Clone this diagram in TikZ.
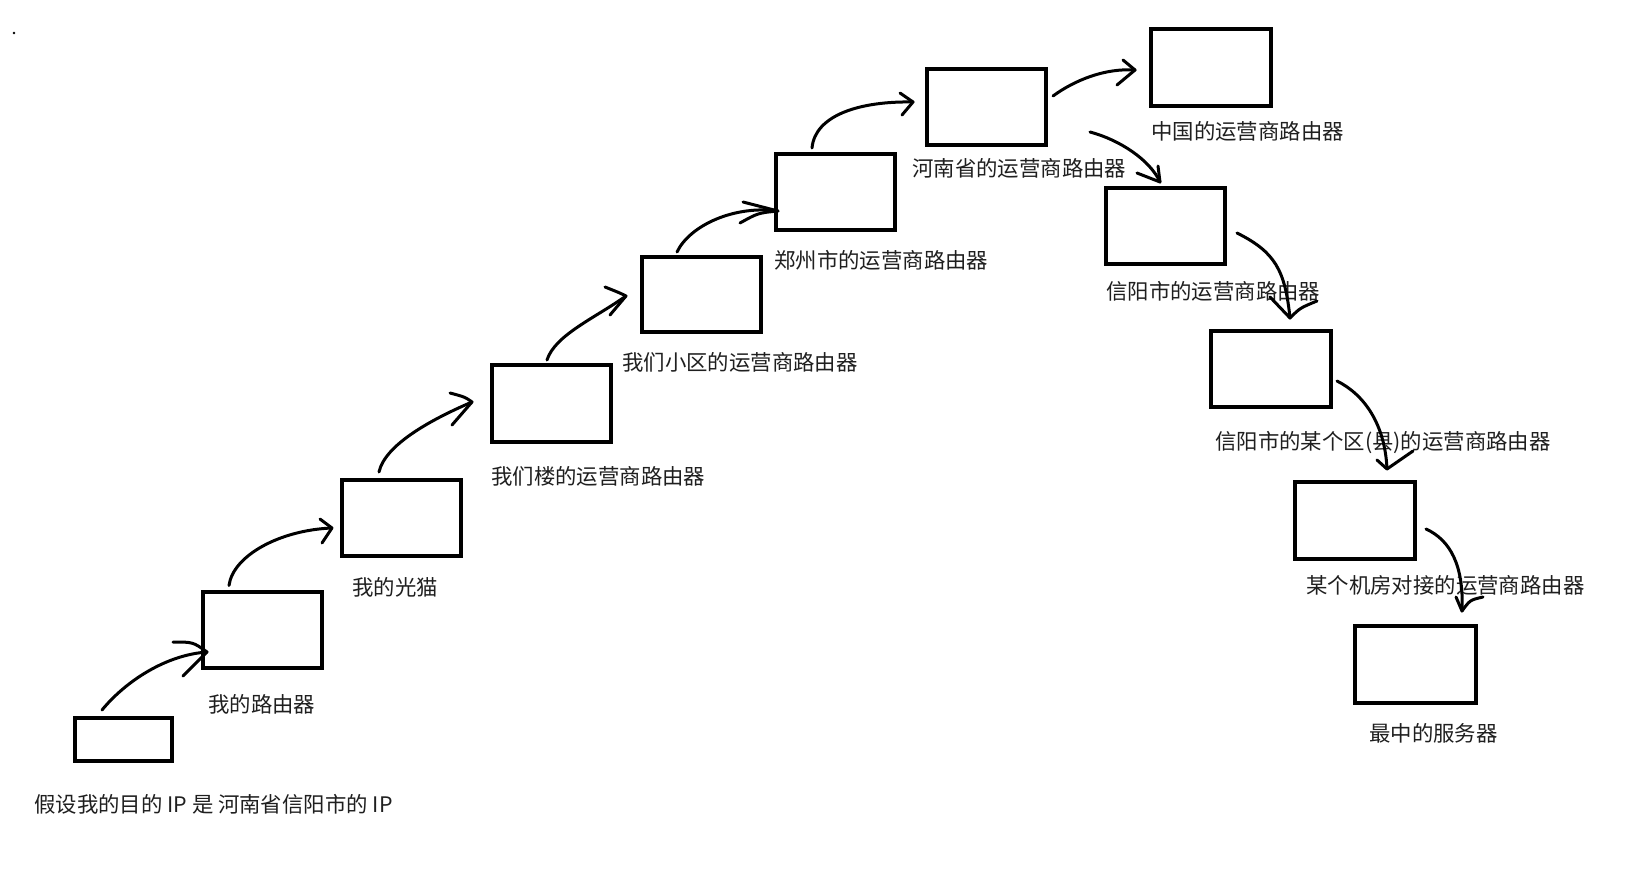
\documentclass[tikz,border=0pt]{standalone}
\usepackage{fontspec}
\setmainfont{Noto Sans CJK SC}
\usetikzlibrary{calc}
\begin{document}
\begin{tikzpicture}[x=1pt,y=-1pt,
  box/.style={draw=black,line width=4pt,inner sep=0pt,outer sep=0pt,minimum width=119pt,minimum height=76pt},
  lbl/.style={anchor=west,inner sep=0pt,text=black!88,font=\fontsize{21.4}{25}\selectfont},
  shaft/.style={draw=black,line width=3pt,line cap=round,line join=round}]
\fill[white] (0,0) rectangle (1630,869);
\useasboundingbox (0,0) rectangle (1630,869);
\fill[black] (14,33) circle (1.3);
% boxes
\node[box,minimum width=97pt,minimum height=43pt] (b0) at (123.5,739.5) {};
\node[box] (b1) at (262.5,629.5) {};
\node[box] (b2) at (401.5,518) {};
\node[box,minimum height=77pt] (b3) at (551.5,403.5) {};
\node[box,minimum height=75pt] (b4) at (701.5,294.5) {};
\node[box] (b5) at (835.5,192) {};
\node[box] (b6) at (986.5,107) {};
\node[box,minimum width=120pt,minimum height=77pt] (b8) at (1211,67.5) {};
\node[box] (b7) at (1165.5,226) {};
\node[box,minimum width=120pt] (b9) at (1271,369) {};
\node[box,minimum width=120pt,minimum height=77pt] (b10) at (1355,520.5) {};
\node[box,minimum width=121pt,minimum height=77pt] (b11) at (1415.5,664.5) {};
% labels
\node[lbl] (l0) at (34,804) {假设我的目的 IP 是 河南省信阳市的 IP};
\node[lbl] (l1) at (208,704) {我的路由器};
\node[lbl] (l2) at (352,587) {我的光猫};
\node[lbl] (l3) at (491,476) {我们楼的运营商路由器};
\node[lbl] (l4) at (622,362) {我们小区的运营商路由器};
\node[lbl] (l5) at (774,260) {郑州市的运营商路由器};
\node[lbl] (l6) at (912,168) {河南省的运营商路由器};
\node[lbl] (l8) at (1151,131) {中国的运营商路由器};
\node[lbl] (l7) at (1106,291) {信阳市的运营商路由器};
\node[lbl] (l9) at (1215,443) {信阳市的某个区(县)的运营商路由器};
\node[lbl] (l10) at (1306,585) {某个机房对接的运营商路由器};
\node[lbl] (l11) at (1369,733) {最中的服务器};
% arrow end points
\coordinate (s1) at ($(b0.north)+(-21.5,-8)$);
\coordinate (t1) at ($(b1.west)+(4,22.5)$);
\coordinate (s2) at ($(b1.north)+(-33.5,-6)$);
\coordinate (t2) at ($(b2.west)+(-10,10)$);
\coordinate (s3) at ($(b2.north)+(-22.5,-8)$);
\coordinate (t3) at ($(b3.west)+(-20,-1.5)$);
\coordinate (s4) at ($(b3.north)+(-4.5,-5)$);
\coordinate (t4) at ($(b4.west)+(-16,1.5)$);
\coordinate (s5) at ($(b4.north)+(-24.5,-5)$);
\coordinate (t5) at ($(b5.west)+(2,19)$);
\coordinate (s6) at ($(b5.north)+(-23.5,-6)$);
\coordinate (t6) at ($(b6.west)+(-14,-5)$);
\coordinate (s7) at ($(b6.east)+(7,-11)$);
\coordinate (t7) at ($(b8.west)+(-16,2.5)$);
\coordinate (s8) at ($(b6.east)+(44,25)$);
\coordinate (t8) at ($(b7.north)+(-5.5,-6)$);
\coordinate (s9) at ($(b7.east)+(12,7)$);
\coordinate (t9) at ($(b9.north)+(19,-13)$);
\coordinate (s10) at ($(b9.east)+(6,12)$);
\coordinate (t10) at ($(b10.north)+(32,-13)$);
\coordinate (s11) at ($(b10.east)+(11,8.5)$);
\coordinate (t11) at ($(b11.north)+(46.5,-15)$);
% arrows
\draw[shaft] (s1) .. controls +(23,-28) and +(-42,3) .. (t1);
\draw[shaft] ($(t1)+(-34,-10)$) .. controls ($(t1)+(-14,-10)$) .. (t1) -- ($(t1)+(-24,24)$);
\draw[shaft] (s2) .. controls +(4,-30) and +(-52,2) .. (t2);
\draw[shaft] ($(t2)+(-12,-9)$) -- (t2) -- ($(t2)+(-10,15)$);
\draw[shaft] (s3) .. controls +(6,-27) and +(-42,18) .. (t3);
\draw[shaft] ($(t3)+(-22,-9)$) .. controls ($(t3)+(-7,-5)$) .. (t3) -- ($(t3)+(-20,23)$);
\draw[shaft] (s4) .. controls +(8,-25) and +(-31,22) .. (t4);
\draw[shaft] ($(t4)+(-21,-9)$) .. controls ($(t4)+(-6,-3)$) .. (t4) -- ($(t4)+(-16,19)$);
\draw[shaft] (s5) .. controls +(13,-27) and +(-43,-6) .. (t5);
\draw[shaft] ($(t5)+(-35,-9)$) -- (t5) .. controls ($(t5)+(-20,2)$) .. ($(t5)+(-38,12)$);
\draw[shaft] (s6) .. controls +(3,-33) and +(-53,-1) .. (t6);
\draw[shaft] ($(t6)+(-13,-9)$) -- (t6) -- ($(t6)+(-11,13)$);
\draw[shaft] (s7) .. controls +(22,-16) and +(-30,-2) .. (t7);
\draw[shaft] ($(t7)+(-12,-10)$) -- (t7) -- ($(t7)+(-18,15)$);
\draw[shaft] (s8) .. controls +(30,8) and +(-10,-22) .. (t8);
\draw[shaft] ($(t8)+(-23,-9)$) -- (t8) -- ($(t8)+(-2,-16)$);
\draw[shaft] (s9) .. controls +(38,19) and +(-5,-48) .. (t9);
\draw[shaft] ($(t9)+(-20,-21)$) -- (t9) .. controls ($(t9)+(10,-10)$) .. ($(t9)+(27,-17)$);
\draw[shaft] (s10) .. controls +(28,14) and +(-2,-44) .. (t10);
\draw[shaft] ($(t10)+(-10,-9)$) -- (t10) -- ($(t10)+(26,-18)$);
\draw[shaft] (s11) .. controls +(24,11) and +(2,-46) .. (t11);
\draw[shaft] ($(t11)+(-6,-14)$) -- (t11) .. controls ($(t11)+(8,-11)$) .. ($(t11)+(21,-14)$);
\end{tikzpicture}
\end{document}
